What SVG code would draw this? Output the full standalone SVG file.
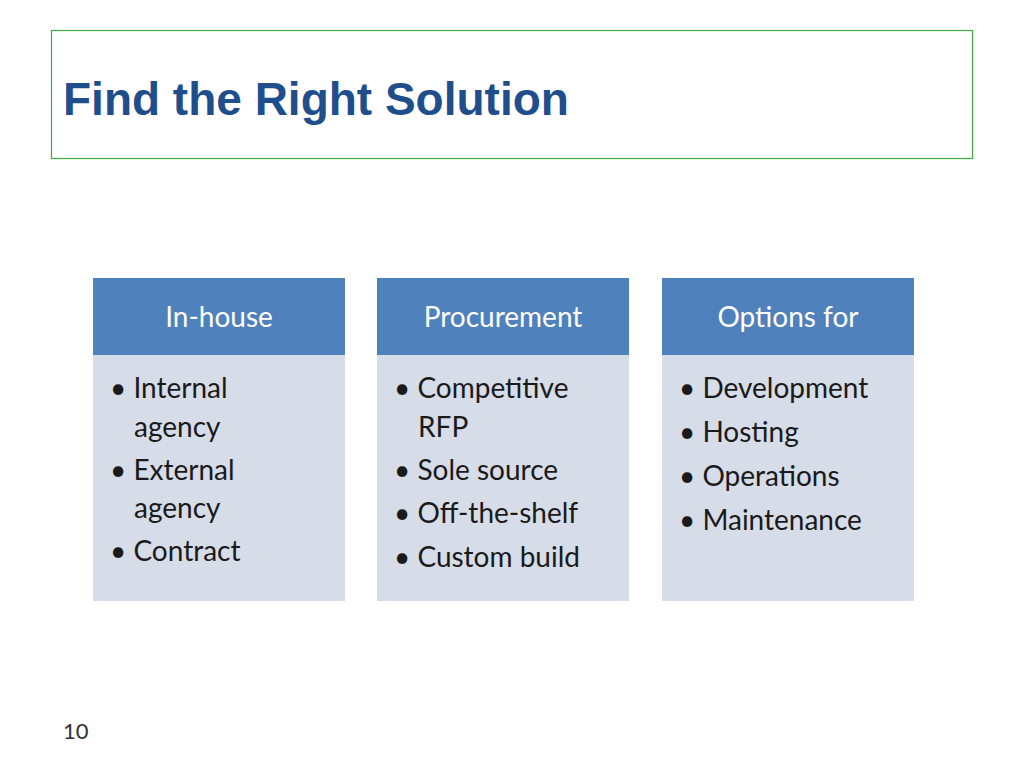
<svg xmlns="http://www.w3.org/2000/svg" width="1024" height="768" viewBox="0 0 1024 768">
<style>
.hd{fill:#4F81BD}
.bd{fill:#D6DCE8}
.ht{font-family:Lato,"Open Sans",sans-serif;font-size:28px;fill:#fff;text-anchor:middle}
.bt{font-family:Lato,"Open Sans",sans-serif;font-size:28px;fill:#1a1a1a}
</style>
<rect width="1024" height="768" fill="#fff"/>
<rect x="51.5" y="30.5" width="921" height="128" fill="none" stroke="#3DAE3D" stroke-width="1.2"/>
<text x="63" y="115" font-family="'Liberation Sans',sans-serif" font-weight="bold" font-size="46" fill="#1F4E8C">Find the Right Solution</text>
<g id="inhouse">
<rect class="bd" x="93" y="355" width="252" height="246"/>
<rect class="hd" x="93" y="278" width="252" height="77"/>
<text class="ht" x="219" y="327">In-house</text>
<text class="bt"><tspan x="110" y="398">• Internal</tspan><tspan x="134" y="437">agency</tspan><tspan x="110" y="480">• External</tspan><tspan x="134" y="518">agency</tspan><tspan x="110" y="561">• Contract</tspan></text>
</g>
<g id="procurement">
<rect class="bd" x="377" y="355" width="252" height="246"/>
<rect class="hd" x="377" y="278" width="252" height="77"/>
<text class="ht" x="503" y="327">Procurement</text>
<text class="bt"><tspan x="394" y="398">• Competitive</tspan><tspan x="418" y="437">RFP</tspan><tspan x="394" y="480">• Sole source</tspan><tspan x="394" y="523">• Off-the-shelf</tspan><tspan x="394" y="567">• Custom build</tspan></text>
</g>
<g id="options">
<rect class="bd" x="662" y="355" width="252" height="246"/>
<rect class="hd" x="662" y="278" width="252" height="77"/>
<text class="ht" x="788" y="327">Options for</text>
<text class="bt"><tspan x="679" y="398">• Development</tspan><tspan x="679" y="442">• Hosting</tspan><tspan x="679" y="486">• Operations</tspan><tspan x="679" y="530">• Maintenance</tspan></text>
</g>
<g id="connectors"/>
<text x="63" y="739" font-family="Lato,sans-serif" font-size="22" fill="#333">10</text>
</svg>
